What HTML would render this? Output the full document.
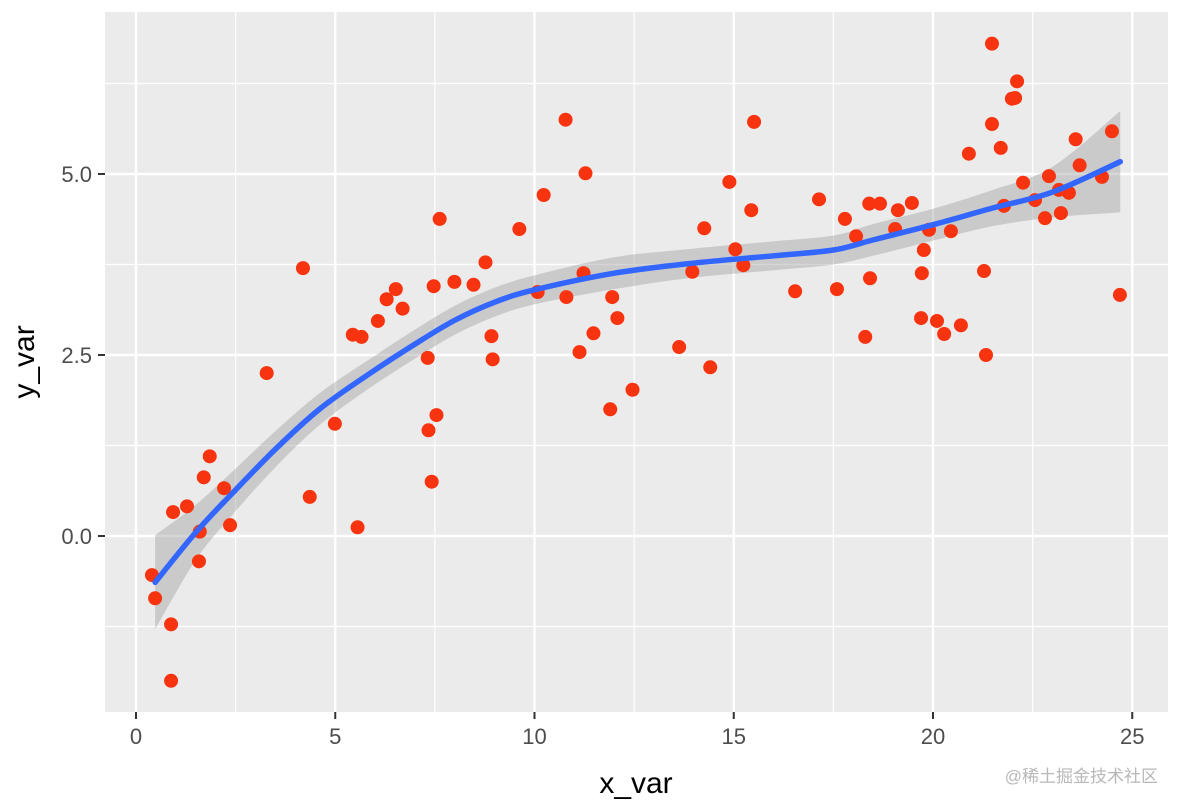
<!DOCTYPE html>
<html><head><meta charset="utf-8"><style>
html,body{margin:0;padding:0;background:#fff;}
svg{display:block;font-family:"Liberation Sans","Noto Sans CJK SC",sans-serif;}
</style></head><body>
<svg id="chart" width="1180" height="810" viewBox="0 0 1180 810" xmlns="http://www.w3.org/2000/svg">
<rect x="105" y="12" width="1063" height="700" fill="#ebebeb"/>
<g id="grid"></g>
<g id="band"></g>
<g id="pts"></g>
<g id="line"></g>
<g id="axes"></g>
<text x="636" y="793" font-size="30" text-anchor="middle" fill="#000">x_var</text>
<text transform="translate(34,362) rotate(-90)" font-size="30" text-anchor="middle" fill="#000">y_var</text>
<text x="1158" y="782" font-size="17" text-anchor="end" fill="#b8b8b8">@稀土掘金技术社区</text>
</svg>
<script>
const xs=[0.40,0.48,0.88,0.88,0.93,1.28,1.58,1.60,1.70,1.85,2.21,2.36,3.28,4.19,4.36,4.99,5.44,5.56,5.66,6.07,6.29,6.52,6.69,7.32,7.34,7.42,7.47,7.54,7.62,7.99,8.47,8.77,8.92,8.95,9.62,10.08,10.23,10.78,10.80,11.13,11.23,11.28,11.48,11.90,11.95,12.08,12.46,13.63,13.96,14.26,14.41,14.89,15.04,15.24,15.44,15.51,16.54,17.14,17.59,17.79,18.07,18.30,18.40,18.42,18.67,19.05,19.12,19.47,19.70,19.72,19.77,19.90,20.10,20.28,20.45,20.70,20.90,21.28,21.33,21.48,21.48,21.70,21.78,21.98,22.06,22.11,22.26,22.56,22.81,22.91,23.16,23.21,23.41,23.58,23.68,24.24,24.49,24.69];
const ys=[-0.54,-0.86,-1.22,-2.00,0.33,0.41,-0.35,0.06,0.81,1.10,0.66,0.15,2.25,3.70,0.54,1.55,2.78,0.12,2.75,2.97,3.27,3.41,3.14,2.46,1.46,0.75,3.45,1.67,4.38,3.51,3.47,3.78,2.76,2.44,4.24,3.37,4.71,5.75,3.30,2.54,3.63,5.01,2.80,1.75,3.30,3.01,2.02,2.61,3.65,4.25,2.33,4.89,3.96,3.74,4.50,5.72,3.38,4.65,3.41,4.38,4.14,2.75,4.59,3.56,4.59,4.24,4.50,4.60,3.01,3.63,3.95,4.23,2.97,2.79,4.21,2.91,5.28,3.66,2.50,6.80,5.69,5.36,4.56,6.04,6.05,6.28,4.88,4.64,4.39,4.97,4.78,4.46,4.74,5.48,5.12,4.96,5.59,3.33];
const fitX=[0.48,1.5,2.4,3.5,4.6,5.8,7.0,8.0,9.0,10,12,14,16,17.5,18.5,20,21.5,23,24.7];
const fitY=[-0.64,0.05,0.58,1.2,1.75,2.22,2.65,2.98,3.23,3.40,3.63,3.77,3.87,3.95,4.09,4.30,4.53,4.75,5.17];
const fitSE=[0.65,0.38,0.3,0.25,0.22,0.2,0.2,0.2,0.2,0.2,0.22,0.2,0.2,0.2,0.22,0.22,0.25,0.35,0.7];
const xTicks=[0,5,10,15,20,25];
const yTicks=[0,2.5,5];
const yTickLabels=["0.0","2.5","5.0"];
const X=v=>136+v*39.85, Y=v=>536-v*72.4;
const NS="http://www.w3.org/2000/svg";
function mk(tag,attrs,parent){const e=document.createElementNS(NS,tag);for(const k in attrs)e.setAttribute(k,attrs[k]);parent.appendChild(e);return e;}
const grid=document.getElementById('grid'),axes=document.getElementById('axes');
[-1.25,1.25,3.75,6.25].forEach(v=>{const l=mk('line',{x1:105,x2:1168,y1:Y(v),y2:Y(v),stroke:'#fff','stroke-width':1.2},grid);

});
[2.5,7.5,12.5,17.5,22.5].forEach(v=>{const l=mk('line',{x1:X(v),x2:X(v),y1:12,y2:712,stroke:'#fff','stroke-width':1.2},grid);

});
yTicks.forEach((v,i)=>{const l=mk('line',{x1:105,x2:1168,y1:Y(v),y2:Y(v),stroke:'#fff','stroke-width':2.4},grid);


const t=mk('text',{x:92,y:Y(v)+8,'font-size':22,'text-anchor':'end',fill:'#4d4d4d'},axes);t.textContent=yTickLabels[i];


const k=mk('line',{x1:98,x2:105,y1:Y(v),y2:Y(v),stroke:'#333','stroke-width':2},axes);

});
xTicks.forEach(v=>{const l=mk('line',{x1:X(v),x2:X(v),y1:12,y2:712,stroke:'#fff','stroke-width':2.4},grid);


const t=mk('text',{x:X(v),y:744,'font-size':22,'text-anchor':'middle',fill:'#4d4d4d'},axes);t.textContent=v;


const k=mk('line',{x1:X(v),x2:X(v),y1:712,y2:719,stroke:'#333','stroke-width':2},axes);

});
function smooth(p){let d='M'+p[0][0]+','+p[0][1];for(let i=0;i<p.length-1;i++){const p0=p[i-1]||p[i],p1=p[i],p2=p[i+1],p3=p[i+2]||p2;
d+=' C'+(p1[0]+(p2[0]-p0[0])/6)+','+(p1[1]+(p2[1]-p0[1])/6)+' '+(p2[0]-(p3[0]-p1[0])/6)+','+(p2[1]-(p3[1]-p1[1])/6)+' '+p2[0]+','+p2[1];}return d;}
const up=fitX.map((x,i)=>[X(x),Y(fitY[i]+fitSE[i])]);
const lo=fitX.map((x,i)=>[X(x),Y(fitY[i]-fitSE[i])]).reverse();
const bd=smooth(up)+' L'+lo[0][0]+','+lo[0][1]+smooth(lo).slice(smooth(lo).indexOf(' C'))+' Z';
const band=mk('path',{d:bd,fill:'#999',opacity:0.4},document.getElementById('band'));


const pg=document.getElementById('pts');
xs.forEach((x,i)=>{const c=mk('circle',{cx:X(x),cy:Y(ys[i]),r:7,fill:'#f8330f'},pg);

});
const ln=mk('path',{d:smooth(fitX.map((x,i)=>[X(x),Y(fitY[i])])),fill:'none',stroke:'#3366ff','stroke-width':5.5,'stroke-linecap':'round'},document.getElementById('line'));


</script>
</body></html>
